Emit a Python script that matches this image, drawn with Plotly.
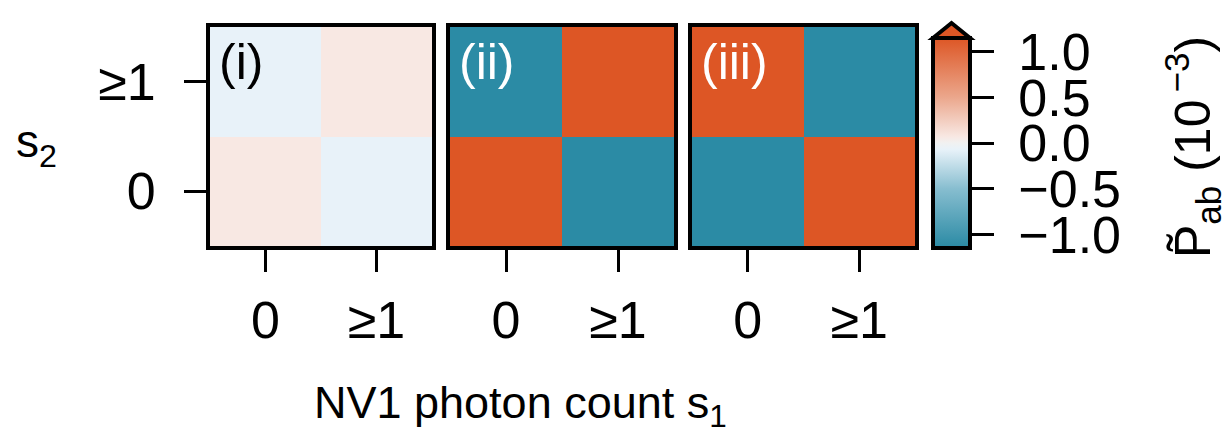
import plotly.graph_objects as go

# Photon-count categories for the two detectors
s1_labels = ["0", "≥1"]
s2_labels = ["0", "≥1"]

# Correlation maps P~_ab (units of 1e-3); rows are s2 = 0, ≥1 ; columns s1 = 0, ≥1
panel_i = [[0.07, -0.07],
           [-0.07, 0.07]]
panel_ii = [[1.25, -1.14],
            [-1.14, 1.25]]
panel_iii = [[-1.14, 1.25],
             [1.25, -1.14]]
panel_names = ["(i)", "(ii)", "(iii)"]
panel_label_colors = ["black", "white", "white"]

cbar_ticks = [-1.0, -0.5, 0.0, 0.5, 1.0]
cbar_ticktext = ["\u22121.0", "\u22120.5", "0.0", "0.5", "1.0"]
zmin, zmax = -1.15, 1.15

W, H = 1223, 435
FONT = "Liberation Sans, Arial, Helvetica, sans-serif"
TICK_SIZE = 52

colorscale = [
    [0.0, "#2a8aa4"],
    [0.28, "#86bdcf"],
    [0.47, "#e8f2f9"],
    [0.5, "#f1f1f1"],
    [0.53, "#f8e8e3"],
    [0.72, "#eba68b"],
    [1.0, "#dd5625"],
]

# pixel geometry of the three panels (inner plot area)
px_x = [(210, 432), (450, 674), (692, 915)]
px_y = (27, 246)

def fx(px):
    return px / W

def fy(py):
    return 1 - py / H

fig = go.Figure()

cb_left, cb_thick = 933, 37
cb_top, cb_bot = 38, 248
cb_len = cb_bot - cb_top
pad = "\u00a0"  # keeps the colorbar labels clear of the ticks

data = [panel_i, panel_ii, panel_iii]
for k, z in enumerate(data):
    n = "" if k == 0 else str(k + 1)
    fig.add_trace(go.Heatmap(
        z=z, x=[0, 1], y=[0, 1],
        colorscale=colorscale, zmin=zmin, zmax=zmax,
        xaxis="x" + n, yaxis="y" + n,
        showscale=(k == 0),
        xgap=0, ygap=0,
        colorbar=dict(
            thickness=cb_thick, thicknessmode="pixels",
            len=cb_len, lenmode="pixels",
            x=fx(cb_left), xanchor="left", xpad=0,
            y=fy((cb_top + cb_bot) / 2), yanchor="middle", ypad=0,
            outlinewidth=4, outlinecolor="black",
            tickmode="array", tickvals=cbar_ticks,
            ticktext=[pad + t for t in cbar_ticktext],
            ticks="outside", ticklen=22, tickwidth=3, tickcolor="black",
            tickfont=dict(family=FONT, size=TICK_SIZE, color="black"),
        ) if k == 0 else None,
    ))

    ax_common = dict(
        showline=True, mirror=True, linewidth=4, linecolor="black",
        showgrid=False, zeroline=False, fixedrange=True,
    )
    fig.layout["xaxis" + n] = dict(
        domain=[fx(px_x[k][0]), fx(px_x[k][1])],
        range=[-0.5, 1.5], anchor="y" + n,
        tickmode="array", tickvals=[0, 1], ticktext=s1_labels,
        ticks="outside", ticklen=22, tickwidth=3, tickcolor="black",
        tickfont=dict(family=FONT, size=TICK_SIZE, color="black"),
        ticklabelstandoff=4,
        **ax_common,
    )
    fig.layout["yaxis" + n] = dict(
        domain=[fy(px_y[1]), fy(px_y[0])],
        range=[-0.5, 1.5], anchor="x" + n,
        tickmode="array", tickvals=[0, 1], ticktext=s2_labels,
        ticks="outside" if k == 0 else "", ticklen=22, tickwidth=3, tickcolor="black",
        showticklabels=(k == 0),
        tickfont=dict(family=FONT, size=TICK_SIZE, color="black"),
        ticklabelstandoff=18,
        **ax_common,
    )
    fig.add_annotation(
        text=panel_names[k], xref=("x" + n + " domain"), yref=("y" + n + " domain"),
        x=0.03, y=0.975, xanchor="left", yanchor="top", showarrow=False,
        font=dict(family=FONT, size=50, color=panel_label_colors[k]),
    )

# extend-max triangle on top of the colorbar
tip = 15
fig.add_shape(
    type="path", xref="paper", yref="paper",
    path=(f"M {fx(cb_left)} {fy(cb_top)} L {fx(cb_left + cb_thick / 2)} {fy(cb_top - tip)} "
          f"L {fx(cb_left + cb_thick)} {fy(cb_top)} Z"),
    fillcolor=colorscale[-1][1], line=dict(color="black", width=4),
)

fig.add_annotation(
    text="NV1 photon count s<sub>1</sub>", xref="paper", yref="paper",
    x=fx(520), y=fy(405), xanchor="center", yanchor="middle", showarrow=False,
    font=dict(family=FONT, size=45, color="black"),
)
fig.add_annotation(
    text="s<sub>2</sub>", xref="paper", yref="paper",
    x=fx(36), y=fy(145), xanchor="center", yanchor="middle", showarrow=False,
    font=dict(family=FONT, size=46, color="black"),
)
fig.add_annotation(
    text="P\u0303<sub>ab</sub>\u00a0(10<sup>\u2009\u22123</sup>)",
    xref="paper", yref="paper",
    x=fx(1192), y=fy(147), xanchor="center", yanchor="middle", showarrow=False,
    textangle=-90,
    font=dict(family=FONT, size=50, color="black"),
)

fig.update_layout(
    width=W, height=H, margin=dict(l=0, r=0, t=0, b=0),
    paper_bgcolor="white", plot_bgcolor="white", showlegend=False,
)

fig.write_html("out.html")
